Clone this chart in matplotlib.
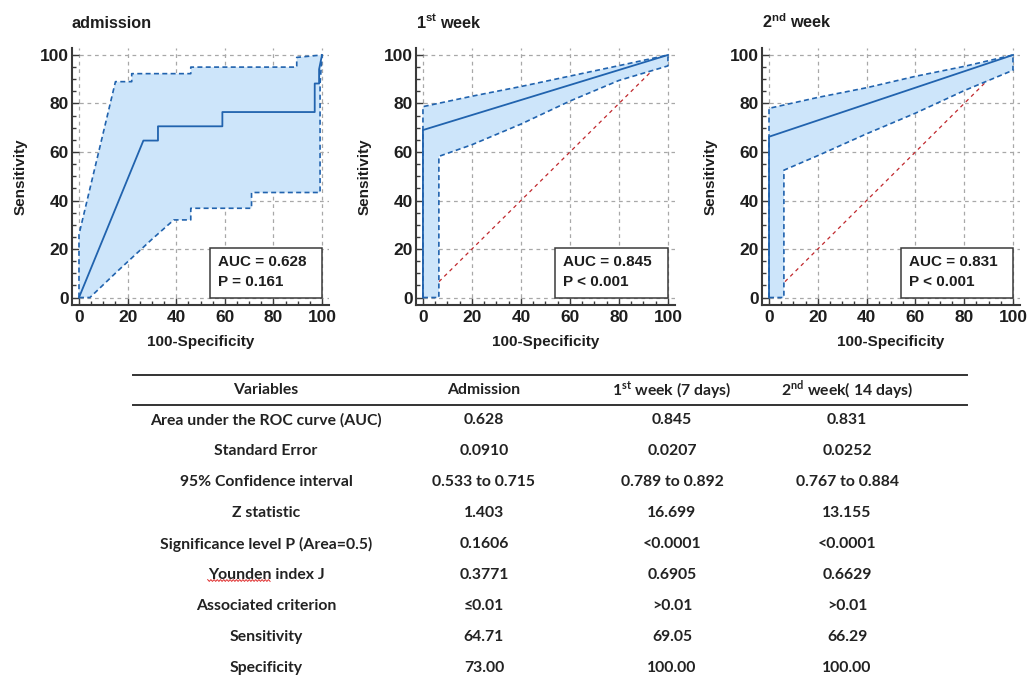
import numpy as np
import matplotlib.pyplot as plt
from matplotlib.patches import Rectangle
from matplotlib.ticker import MultipleLocator
from matplotlib.transforms import IdentityTransform

plt.rcParams['font.family'] = ['Liberation Sans', 'DejaVu Sans']
plt.rcParams['mathtext.fontset'] = 'custom'
plt.rcParams['mathtext.bf'] = 'Liberation Sans:bold'
plt.rcParams['mathtext.sf'] = 'Lato:bold'

# ROC curves, x = 100-Specificity, y = Sensitivity
adm_roc_x = [0, 26.5, 32.5, 32.5, 59, 59, 97, 97, 98.8, 98.8, 100]
adm_roc_y = [0, 64.71, 64.71, 70.59, 70.59, 76.47, 76.47, 88.24, 88.24, 94.12, 100]
adm_hi_x = [0, 0, 15, 21.7, 21.7, 46, 46, 89.6, 89.6, 100]
adm_hi_y = [0, 26, 89, 89, 92.3, 92.3, 95, 95, 99, 100]
adm_lo_x = [0, 4.5, 16, 30, 39, 46, 46, 71, 71, 99.2, 99.2, 100]
adm_lo_y = [0, 0, 11, 24, 32, 32, 36.8, 36.8, 43.3, 43.3, 88, 100]

w1_roc_x = [0, 0, 100]
w1_roc_y = [0, 69.05, 100]
w1_hi_x = [0, 0, 20, 40, 60, 80, 100]
w1_hi_y = [0, 78.7, 83, 87, 91.3, 95.6, 100]
w1_lo_x = [0, 6.5, 6.5, 20, 40, 60, 80, 100, 100]
w1_lo_y = [0, 0, 58.2, 63, 71.5, 81, 89.5, 95.5, 100]

w2_roc_x = [0, 0, 100]
w2_roc_y = [0, 66.29, 100]
w2_hi_x = [0, 0, 20, 40, 60, 80, 100]
w2_hi_y = [0, 78, 82.5, 86.5, 91.2, 95.3, 100]
w2_lo_x = [0, 6.1, 6.1, 20, 40, 60, 80, 100, 100]
w2_lo_y = [0, 0, 52.5, 58.5, 67.5, 76, 85.3, 93.7, 100]

titles = ['admission', r'1$^{\mathbf{st}}$ week', r'2$^{\mathbf{nd}}$ week']
auc_labels = ['AUC = 0.628', 'AUC = 0.845', 'AUC = 0.831']
p_labels = ['P = 0.161', 'P < 0.001', 'P < 0.001']

# summary table
col_headers = ['Variables', 'Admission', r'1$^{\mathsf{st}}$ week (7 days)', r'2$^{\mathsf{nd}}$ week( 14 days)']
row_names = ['Area under the ROC curve (AUC)', 'Standard Error', '95% Confidence interval',
             'Z statistic', 'Significance level P (Area=0.5)', 'Younden index J',
             'Associated criterion', 'Sensitivity', 'Specificity']
admission_vals = ['0.628', '0.0910', '0.533 to 0.715', '1.403', '0.1606', '0.3771', '≤0.01', '64.71', '73.00']
week1_vals = ['0.845', '0.0207', '0.789 to 0.892', '16.699', '<0.0001', '0.6905', '>0.01', '69.05', '100.00']
week2_vals = ['0.831', '0.0252', '0.767 to 0.884', '13.155', '<0.0001', '0.6629', '>0.01', '66.29', '100.00']

W, H = 1027, 677
fig = plt.figure(figsize=(W / 100, H / 100), dpi=100)

line_c = '#2163ae'
fill_c = '#cde5fa'
ink = '#1e1e1e'

curves = [
    (adm_roc_x, adm_roc_y, adm_hi_x, adm_hi_y, adm_lo_x, adm_lo_y),
    (w1_roc_x, w1_roc_y, w1_hi_x, w1_hi_y, w1_lo_x, w1_lo_y),
    (w2_roc_x, w2_roc_y, w2_hi_x, w2_hi_y, w2_lo_x, w2_lo_y),
]
# left pixel of each panel, and its width
panel_left = [71.7, 415.6, 761.7]
panel_width = [257.6, 259.7, 258.6]
top_px, bot_px = 47.7, 304.8

for i, (rx, ry, hx, hy, lx, ly) in enumerate(curves):
    ax = fig.add_axes([panel_left[i] / W, 1 - bot_px / H, panel_width[i] / W, (bot_px - top_px) / H])
    ax.set_xlim(-3, 103)
    ax.set_ylim(-3, 103)

    ax.plot([0, 100], [0, 100], color='#c0282d', lw=0.9, dashes=(3, 3), zorder=1)
    ax.fill(hx + lx[::-1], hy + ly[::-1], color=fill_c, lw=0, zorder=2)
    ax.plot(hx, hy, color=line_c, lw=1.2, dashes=(3, 2), zorder=3)
    ax.plot(lx, ly, color=line_c, lw=1.2, dashes=(3, 2), zorder=3)
    ax.plot(rx, ry, color=line_c, lw=1.3, zorder=4)

    ax.xaxis.set_major_locator(MultipleLocator(20))
    ax.yaxis.set_major_locator(MultipleLocator(20))
    ax.xaxis.set_minor_locator(MultipleLocator(5))
    ax.yaxis.set_minor_locator(MultipleLocator(5))
    ax.grid(True, which='major', color='#a8a8a8', lw=0.9, dashes=(3, 3), zorder=0)
    ax.set_axisbelow(True)
    for s in ['top', 'right']:
        ax.spines[s].set_visible(False)
    for s in ['left', 'bottom']:
        ax.spines[s].set_color('#3a3a3a')
        ax.spines[s].set_linewidth(1.5)
    ax.tick_params(which='major', direction='in', length=5, width=1, color='#3a3a3a')
    ax.tick_params(which='minor', direction='in', length=3, width=1, color='#3a3a3a')
    ax.tick_params(axis='y', pad=2)
    ax.tick_params(axis='x', pad=4)
    for lab in ax.get_xticklabels() + ax.get_yticklabels():
        lab.set_fontsize(12.5)
        lab.set_fontweight('bold')
        lab.set_color(ink)

    ax.set_xlabel('100-Specificity', fontsize=11, fontweight='bold', labelpad=7, color=ink)
    ax.set_ylabel('Sensitivity', fontsize=11, fontweight='bold', labelpad=9, color=ink)
    ax.set_title(titles[i], loc='left', fontsize=11.7, fontweight='bold', pad=14, color=ink)

    ax.add_patch(Rectangle((0.537, 0.028), 0.433, 0.192, transform=ax.transAxes,
                           fc='white', ec='#3a3a3a', lw=1.1, zorder=6))
    ax.text(0.568, 0.167, auc_labels[i], transform=ax.transAxes, fontsize=11, fontweight='bold',
            va='center', color=ink, zorder=7)
    ax.text(0.568, 0.089, p_labels[i], transform=ax.transAxes, fontsize=11, fontweight='bold',
            va='center', color=ink, zorder=7)

# table
col_x = [266, 484, 672, 847]
header_y = 390
row_y0, row_dy = 420.5, 30.9
tfont = dict(family=['Lato', 'DejaVu Sans'], fontweight='bold', fontsize=11.3, color='#222222')

for cx, hd in zip(col_x, col_headers):
    fig.text(cx / W, 1 - header_y / H, hd, ha='center', va='center', **tfont)

columns = [row_names, admission_vals, week1_vals, week2_vals]
row_texts = []
for cx, vals in zip(col_x, columns):
    for j, v in enumerate(vals):
        t = fig.text(cx / W, 1 - (row_y0 + j * row_dy) / H, v, ha='center', va='center', **tfont)
        if cx == col_x[0]:
            row_texts.append(t)

for ly in [375, 405]:
    fig.add_artist(plt.Line2D([133 / W, 967 / W], [1 - ly / H, 1 - ly / H], color='#333333', lw=1.4))

# spell-check squiggle under "Younden"
renderer = fig.canvas.get_renderer()
yt = row_texts[row_names.index('Younden index J')]
bb = yt.get_window_extent(renderer)
tmp = fig.text(0, 0, 'Younden', **tfont)
word_w = tmp.get_window_extent(renderer).width
tmp.remove()
sx = np.arange(bb.x0, bb.x0 + word_w, 1.6)
sy = bb.y0 + 1.5 + 0.9 * (-1) ** np.arange(len(sx))
fig.add_artist(plt.Line2D(sx, sy, transform=IdentityTransform(), color='#e03030', lw=0.7))

fig.savefig('out.png', dpi=100)
